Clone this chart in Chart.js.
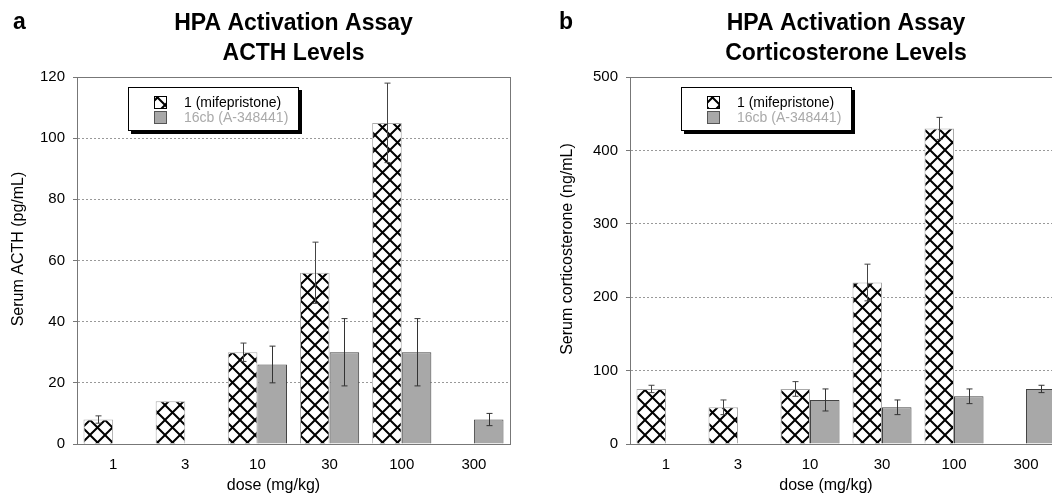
<!DOCTYPE html>
<html>
<head>
<meta charset="utf-8">
<script src="https://cdn.jsdelivr.net/npm/chart.js@4"></script>
<style>
  html, body { margin: 0; padding: 0; background: #fff; overflow: hidden; width: 1052px; height: 495px; }
  canvas { position: absolute; top: 0; }
  #acthChart { left: 0; }
  #corticoChart { left: 525px; }
</style>
</head>
<body>
<canvas id="acthChart" width="525" height="495"></canvas>
<canvas id="corticoChart" width="560" height="495"></canvas>
<script>
const doses = ['1', '3', '10', '30', '100', '300'];
const seriesNames = ['1 (mifepristone)', '16cb (A-348441)'];

const acthMife = [8, 14, 30, 56, 105, null];
const acthMifeErr = [1.2, 0, 3, 10, 13, 0];
const acth16cb = [null, null, 26, 30, 30, 8];
const acth16cbErr = [0, 0, 6, 11, 11, 2];

const corticoMife = [75, 50, 75, 220, 430, null];
const corticoMifeErr = [5, 10, 10, 25, 15, 0];
const cortico16cb = [null, null, 60, 50, 65, 75];
const cortico16cbErr = [0, 0, 15, 10, 10, 5];

const FONT = '"Liberation Sans", Arial, Helvetica, sans-serif';

function makeHatch() {
    const c = document.createElement('canvas');
    c.width = 15;
    c.height = 15;
    const g = c.getContext('2d');
    g.fillStyle = '#fff';
    g.fillRect(0, 0, 15, 15);
    g.strokeStyle = '#000';
    g.lineWidth = 2;
    g.beginPath();
    g.moveTo(-1, -1); g.lineTo(16, 16);
    g.moveTo(16, -1); g.lineTo(-1, 16);
    g.stroke();
    return g.createPattern(c, 'repeat');
}

// frame, error bars, legend box and the texts around the plot
const decorPlugin = {
    id: 'decor',
    beforeDatasetsDraw(chart) {
        const ctx = chart.ctx;
        const a = chart.chartArea;
        ctx.save();
        ctx.strokeStyle = '#777';
        ctx.lineWidth = 1;
        ctx.strokeRect(a.left + 0.5, a.top + 0.5, a.right - a.left, a.bottom - a.top);
        ctx.restore();
    },
    afterDatasetsDraw(chart) {
        const ctx = chart.ctx;
        const y = chart.scales.y;
        ctx.save();
        chart.data.datasets.forEach((ds, i) => {
            const meta = chart.getDatasetMeta(i);
            meta.data.forEach((bar, j) => {
                const v = ds.data[j];
                const e = ds.errors[j];
                if (v == null || !e) return;
                const top = y.getPixelForValue(v + e);
                const bot = y.getPixelForValue(v - e);
                const x = Math.round(bar.x) + 0.5;
                ctx.strokeStyle = ds.errColor;
                ctx.lineWidth = 1;
                ctx.beginPath();
                ctx.moveTo(x, top); ctx.lineTo(x, bot);
                ctx.moveTo(x - 3, top); ctx.lineTo(x + 3, top);
                ctx.moveTo(x - 3, bot); ctx.lineTo(x + 3, bot);
                ctx.stroke();
            });
        });
        ctx.restore();
    },
    afterDraw(chart) {
        const ctx = chart.ctx;
        const a = chart.chartArea;
        const o = chart.options.plugins.decor;
        const cx = (a.left + a.right) / 2;
        ctx.save();

        // panel letter and title
        ctx.fillStyle = '#000';
        ctx.font = 'bold 23px ' + FONT;
        ctx.textBaseline = 'middle';
        ctx.textAlign = 'left';
        ctx.fillText(o.letter, o.letterX, 23);
        ctx.textAlign = 'center';
        o.title.forEach((line, k) => ctx.fillText(line, cx, 24 + k * 30));

        // axis titles
        ctx.font = '16px ' + FONT;
        ctx.fillText('dose (mg/kg)', cx - 20, 486);
        ctx.save();
        ctx.translate(o.yTitleX, 249);
        ctx.rotate(-Math.PI / 2);
        ctx.fillText(o.yTitle, 0, 0);
        ctx.restore();

        // legend box with shadow
        const lx = a.left + 51, ly = a.top + 10, lw = 171, lh = 44;
        ctx.fillStyle = '#000';
        ctx.fillRect(lx + 3, ly + 3, lw, lh);
        ctx.fillStyle = '#fff';
        ctx.fillRect(lx, ly, lw, lh);
        ctx.strokeStyle = '#000';
        ctx.lineWidth = 1;
        ctx.strokeRect(lx + 0.5, ly + 0.5, lw - 1, lh - 1);

        const ds = chart.data.datasets;
        const textColors = ['#000', '#aaa'];
        ds.forEach((d, k) => {
            const sy = ly + 9 + k * 15;
            ctx.fillStyle = d.backgroundColor;
            ctx.fillRect(lx + 26, sy, 13, 13);
            ctx.strokeStyle = k === 0 ? '#000' : '#555';
            ctx.strokeRect(lx + 26.5, sy + 0.5, 12, 12);
            ctx.fillStyle = textColors[k];
            ctx.font = '14px ' + FONT;
            ctx.textAlign = 'left';
            ctx.fillText(d.label, lx + 56, sy + 7);
        });
        ctx.restore();
    }
};

function makeChart(id, cfg) {
    const ctx = document.getElementById(id).getContext('2d');
    return new Chart(ctx, {
        type: 'bar',
        data: {
            labels: doses,
            datasets: [{
                label: seriesNames[0],
                data: cfg.mife,
                errors: cfg.mifeErr,
                errColor: '#444',
                backgroundColor: makeHatch(),
                borderColor: '#aaa',
                borderWidth: 1,
                categoryPercentage: 0.82,
                barPercentage: 1.0
            }, {
                label: seriesNames[1],
                data: cfg.cb,
                errors: cfg.cbErr,
                errColor: '#333',
                backgroundColor: '#a8a8a8',
                borderColor: '#444',
                borderWidth: 1,
                categoryPercentage: 0.82,
                barPercentage: 1.0
            }]
        },
        options: {
            responsive: false,
            animation: false,
            layout: { padding: { left: 0, right: cfg.padRight, top: 77, bottom: 0 } },
            scales: {
                x: {
                    grid: { display: false },
                    border: { display: true, color: '#777' },
                    ticks: { color: '#000', font: { size: 15, family: FONT }, padding: 4 },
                    afterFit(scale) { scale.height = 51; }
                },
                y: {
                    min: 0,
                    max: cfg.yMax,
                    ticks: { stepSize: cfg.step, color: '#000', font: { size: 15, family: FONT }, padding: 8 },
                    grid: { color: '#999', tickLength: 4, tickColor: '#777' },
                    border: { display: true, color: '#777', dash: [2, 2] },
                    afterFit(scale) { scale.width = cfg.axisW; }
                }
            },
            plugins: {
                legend: { display: false },
                tooltip: { enabled: false },
                decor: {
                    letter: cfg.letter,
                    letterX: cfg.letterX,
                    title: cfg.title,
                    yTitle: cfg.yTitle,
                    yTitleX: cfg.yTitleX
                }
            }
        },
        plugins: [decorPlugin]
    });
}

makeChart('acthChart', {
    mife: acthMife, mifeErr: acthMifeErr, cb: acth16cb, cbErr: acth16cbErr,
    yMax: 120, step: 20, axisW: 77, padRight: 15,
    letter: 'a', letterX: 13,
    title: ['HPA Activation Assay', 'ACTH Levels'],
    yTitle: 'Serum ACTH (pg/mL)', yTitleX: 19
});

makeChart('corticoChart', {
    mife: corticoMife, mifeErr: corticoMifeErr, cb: cortico16cb, cbErr: cortico16cbErr,
    yMax: 500, step: 100, axisW: 105, padRight: 23,
    letter: 'b', letterX: 34,
    title: ['HPA Activation Assay', 'Corticosterone Levels'],
    yTitle: 'Serum corticosterone (ng/mL)', yTitleX: 43
});
</script>
</body>
</html>
